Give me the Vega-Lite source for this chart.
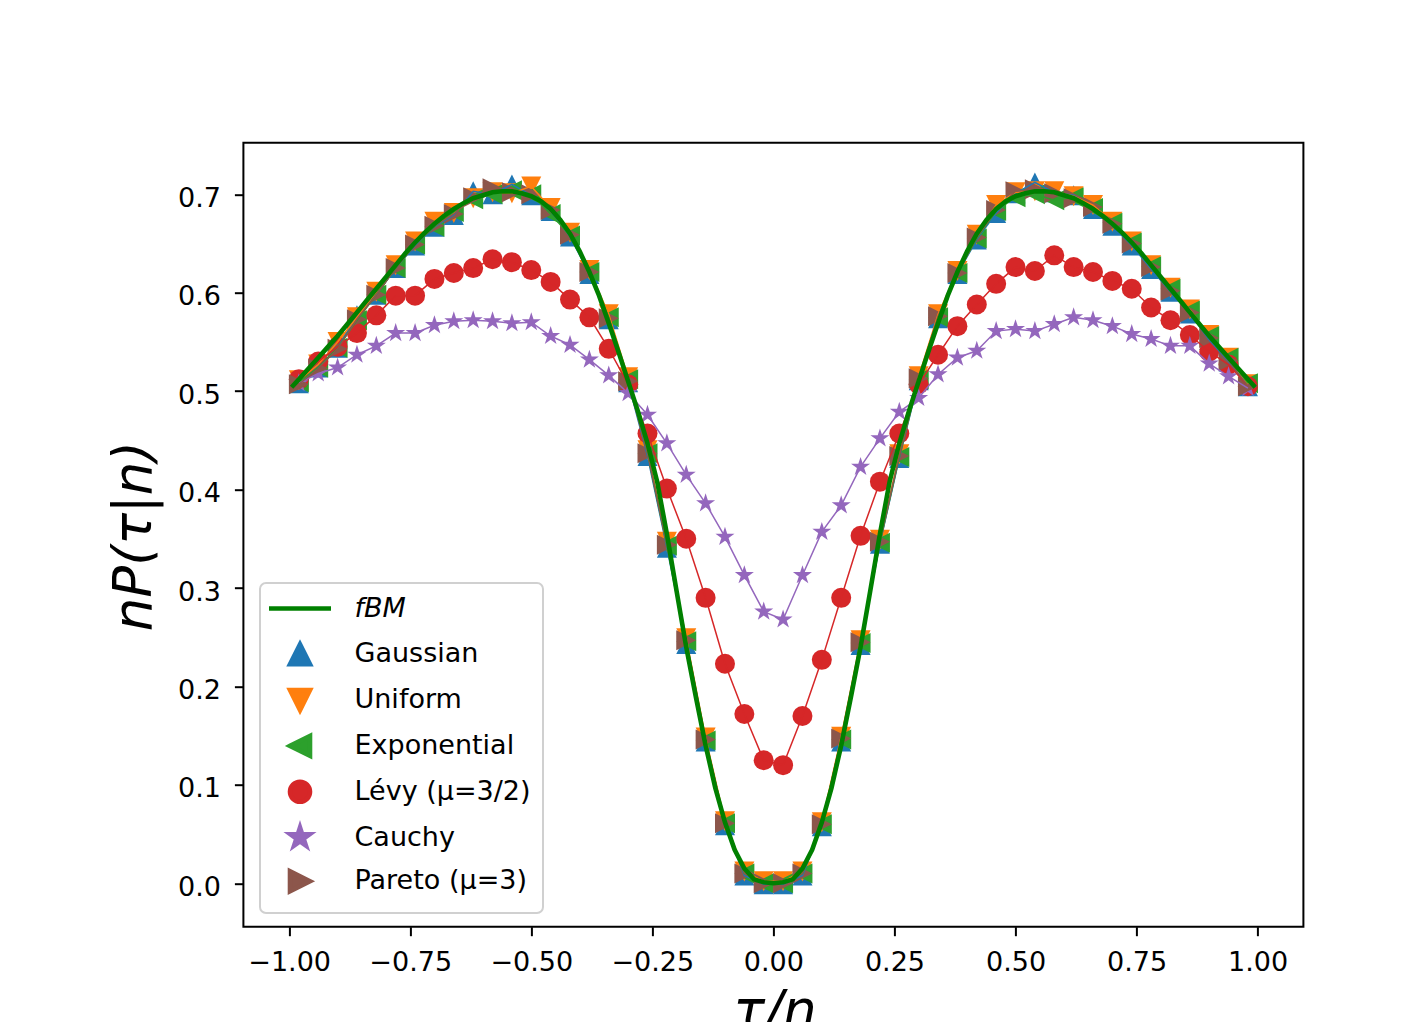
{
  "$schema": "https://vega.github.io/schema/vega-lite/v6.json",
  "width": 1060,
  "height": 784,
  "autosize": {"type": "none"},
  "padding": {"left": 243.4, "top": 142.7, "right": 117.6, "bottom": 95.3},
  "background": "white",
  "datasets": {
    "pts": [
      {"x": -0.98, "Gaussian": 0.508, "Uniform": 0.511, "Exponential": 0.509, "Levy": 0.512, "Cauchy": 0.508, "Pareto": 0.507},
      {"x": -0.94, "Gaussian": 0.524, "Uniform": 0.527, "Exponential": 0.524, "Levy": 0.530, "Cauchy": 0.518, "Pareto": 0.523},
      {"x": -0.90, "Gaussian": 0.544, "Uniform": 0.550, "Exponential": 0.544, "Levy": 0.545, "Cauchy": 0.524, "Pareto": 0.543},
      {"x": -0.86, "Gaussian": 0.577, "Uniform": 0.575, "Exponential": 0.572, "Levy": 0.559, "Cauchy": 0.537, "Pareto": 0.573},
      {"x": -0.82, "Gaussian": 0.598, "Uniform": 0.601, "Exponential": 0.598, "Levy": 0.577, "Cauchy": 0.546, "Pareto": 0.598},
      {"x": -0.78, "Gaussian": 0.625, "Uniform": 0.628, "Exponential": 0.625, "Levy": 0.597, "Cauchy": 0.559, "Pareto": 0.625},
      {"x": -0.74, "Gaussian": 0.648, "Uniform": 0.652, "Exponential": 0.649, "Levy": 0.597, "Cauchy": 0.559, "Pareto": 0.649},
      {"x": -0.70, "Gaussian": 0.667, "Uniform": 0.672, "Exponential": 0.667, "Levy": 0.614, "Cauchy": 0.567, "Pareto": 0.668},
      {"x": -0.66, "Gaussian": 0.679, "Uniform": 0.681, "Exponential": 0.682, "Levy": 0.620, "Cauchy": 0.571, "Pareto": 0.680},
      {"x": -0.62, "Gaussian": 0.703, "Uniform": 0.696, "Exponential": 0.695, "Levy": 0.625, "Cauchy": 0.572, "Pareto": 0.697},
      {"x": -0.58, "Gaussian": 0.700, "Uniform": 0.702, "Exponential": 0.700, "Levy": 0.634, "Cauchy": 0.571, "Pareto": 0.706},
      {"x": -0.54, "Gaussian": 0.710, "Uniform": 0.701, "Exponential": 0.704, "Levy": 0.631, "Cauchy": 0.569, "Pareto": 0.702},
      {"x": -0.50, "Gaussian": 0.699, "Uniform": 0.708, "Exponential": 0.700, "Levy": 0.623, "Cauchy": 0.570, "Pareto": 0.700},
      {"x": -0.46, "Gaussian": 0.683, "Uniform": 0.686, "Exponential": 0.680, "Levy": 0.611, "Cauchy": 0.556, "Pareto": 0.684},
      {"x": -0.42, "Gaussian": 0.657, "Uniform": 0.661, "Exponential": 0.658, "Levy": 0.593, "Cauchy": 0.547, "Pareto": 0.659},
      {"x": -0.38, "Gaussian": 0.619, "Uniform": 0.623, "Exponential": 0.621, "Levy": 0.575, "Cauchy": 0.532, "Pareto": 0.621},
      {"x": -0.34, "Gaussian": 0.573, "Uniform": 0.578, "Exponential": 0.575, "Levy": 0.543, "Cauchy": 0.516, "Pareto": 0.574},
      {"x": -0.30, "Gaussian": 0.509, "Uniform": 0.514, "Exponential": 0.512, "Levy": 0.507, "Cauchy": 0.498, "Pareto": 0.510},
      {"x": -0.26, "Gaussian": 0.434, "Uniform": 0.440, "Exponential": 0.437, "Levy": 0.457, "Cauchy": 0.476, "Pareto": 0.437},
      {"x": -0.22, "Gaussian": 0.341, "Uniform": 0.347, "Exponential": 0.343, "Levy": 0.401, "Cauchy": 0.447, "Pareto": 0.344},
      {"x": -0.18, "Gaussian": 0.243, "Uniform": 0.249, "Exponential": 0.246, "Levy": 0.350, "Cauchy": 0.415, "Pareto": 0.247},
      {"x": -0.14, "Gaussian": 0.144, "Uniform": 0.148, "Exponential": 0.145, "Levy": 0.290, "Cauchy": 0.386, "Pareto": 0.146},
      {"x": -0.10, "Gaussian": 0.059, "Uniform": 0.063, "Exponential": 0.061, "Levy": 0.223, "Cauchy": 0.352, "Pareto": 0.061},
      {"x": -0.06, "Gaussian": 0.008, "Uniform": 0.012, "Exponential": 0.010, "Levy": 0.172, "Cauchy": 0.313, "Pareto": 0.010},
      {"x": -0.02, "Gaussian": -0.001, "Uniform": 0.002, "Exponential": 0.000, "Levy": 0.125, "Cauchy": 0.276, "Pareto": 0.000},
      {"x": 0.02, "Gaussian": -0.001, "Uniform": 0.002, "Exponential": 0.000, "Levy": 0.120, "Cauchy": 0.268, "Pareto": 0.000},
      {"x": 0.06, "Gaussian": 0.008, "Uniform": 0.012, "Exponential": 0.010, "Levy": 0.170, "Cauchy": 0.313, "Pareto": 0.010},
      {"x": 0.10, "Gaussian": 0.058, "Uniform": 0.062, "Exponential": 0.060, "Levy": 0.227, "Cauchy": 0.357, "Pareto": 0.060},
      {"x": 0.14, "Gaussian": 0.144, "Uniform": 0.149, "Exponential": 0.146, "Levy": 0.290, "Cauchy": 0.384, "Pareto": 0.147},
      {"x": 0.18, "Gaussian": 0.242, "Uniform": 0.247, "Exponential": 0.244, "Levy": 0.353, "Cauchy": 0.423, "Pareto": 0.245},
      {"x": 0.22, "Gaussian": 0.345, "Uniform": 0.349, "Exponential": 0.346, "Levy": 0.408, "Cauchy": 0.452, "Pareto": 0.347},
      {"x": 0.26, "Gaussian": 0.432, "Uniform": 0.436, "Exponential": 0.433, "Levy": 0.457, "Cauchy": 0.479, "Pareto": 0.434},
      {"x": 0.30, "Gaussian": 0.511, "Uniform": 0.515, "Exponential": 0.512, "Levy": 0.507, "Cauchy": 0.493, "Pareto": 0.513},
      {"x": 0.34, "Gaussian": 0.574, "Uniform": 0.578, "Exponential": 0.575, "Levy": 0.537, "Cauchy": 0.517, "Pareto": 0.576},
      {"x": 0.38, "Gaussian": 0.619, "Uniform": 0.622, "Exponential": 0.620, "Levy": 0.566, "Cauchy": 0.534, "Pareto": 0.620},
      {"x": 0.42, "Gaussian": 0.654, "Uniform": 0.659, "Exponential": 0.655, "Levy": 0.588, "Cauchy": 0.541, "Pareto": 0.656},
      {"x": 0.46, "Gaussian": 0.681, "Uniform": 0.689, "Exponential": 0.683, "Levy": 0.609, "Cauchy": 0.561, "Pareto": 0.684},
      {"x": 0.50, "Gaussian": 0.701, "Uniform": 0.702, "Exponential": 0.697, "Levy": 0.626, "Cauchy": 0.563, "Pareto": 0.703},
      {"x": 0.54, "Gaussian": 0.712, "Uniform": 0.703, "Exponential": 0.700, "Levy": 0.622, "Cauchy": 0.561, "Pareto": 0.705},
      {"x": 0.58, "Gaussian": 0.702, "Uniform": 0.703, "Exponential": 0.694, "Levy": 0.638, "Cauchy": 0.568, "Pareto": 0.701},
      {"x": 0.62, "Gaussian": 0.699, "Uniform": 0.698, "Exponential": 0.697, "Levy": 0.626, "Cauchy": 0.575, "Pareto": 0.696},
      {"x": 0.66, "Gaussian": 0.685, "Uniform": 0.689, "Exponential": 0.686, "Levy": 0.621, "Cauchy": 0.572, "Pareto": 0.687},
      {"x": 0.70, "Gaussian": 0.668, "Uniform": 0.672, "Exponential": 0.671, "Levy": 0.612, "Cauchy": 0.566, "Pareto": 0.670},
      {"x": 0.74, "Gaussian": 0.648, "Uniform": 0.652, "Exponential": 0.651, "Levy": 0.604, "Cauchy": 0.558, "Pareto": 0.650},
      {"x": 0.78, "Gaussian": 0.624, "Uniform": 0.628, "Exponential": 0.627, "Levy": 0.585, "Cauchy": 0.553, "Pareto": 0.626},
      {"x": 0.82, "Gaussian": 0.601, "Uniform": 0.605, "Exponential": 0.604, "Levy": 0.572, "Cauchy": 0.546, "Pareto": 0.602},
      {"x": 0.86, "Gaussian": 0.579, "Uniform": 0.583, "Exponential": 0.582, "Levy": 0.557, "Cauchy": 0.546, "Pareto": 0.580},
      {"x": 0.90, "Gaussian": 0.552, "Uniform": 0.557, "Exponential": 0.556, "Levy": 0.540, "Cauchy": 0.528, "Pareto": 0.554},
      {"x": 0.94, "Gaussian": 0.530, "Uniform": 0.534, "Exponential": 0.534, "Levy": 0.527, "Cauchy": 0.515, "Pareto": 0.531},
      {"x": 0.98, "Gaussian": 0.505, "Uniform": 0.507, "Exponential": 0.508, "Levy": 0.505, "Cauchy": 0.503, "Pareto": 0.505}
    ],
    "fbm": [
      {"x": -0.995, "y": 0.504}, {"x": -0.98, "y": 0.512}, {"x": -0.96, "y": 0.523}, {"x": -0.94, "y": 0.534},
      {"x": -0.92, "y": 0.545}, {"x": -0.90, "y": 0.556}, {"x": -0.88, "y": 0.568}, {"x": -0.86, "y": 0.580},
      {"x": -0.84, "y": 0.592}, {"x": -0.82, "y": 0.604}, {"x": -0.80, "y": 0.616}, {"x": -0.78, "y": 0.628},
      {"x": -0.76, "y": 0.640}, {"x": -0.74, "y": 0.651}, {"x": -0.72, "y": 0.661}, {"x": -0.70, "y": 0.670},
      {"x": -0.68, "y": 0.678}, {"x": -0.66, "y": 0.685}, {"x": -0.64, "y": 0.691}, {"x": -0.62, "y": 0.696},
      {"x": -0.60, "y": 0.699}, {"x": -0.58, "y": 0.702}, {"x": -0.56, "y": 0.703}, {"x": -0.54, "y": 0.703},
      {"x": -0.52, "y": 0.701}, {"x": -0.50, "y": 0.698}, {"x": -0.48, "y": 0.693}, {"x": -0.46, "y": 0.685},
      {"x": -0.44, "y": 0.674}, {"x": -0.42, "y": 0.660}, {"x": -0.40, "y": 0.642}, {"x": -0.38, "y": 0.621},
      {"x": -0.36, "y": 0.597}, {"x": -0.34, "y": 0.569}, {"x": -0.32, "y": 0.540}, {"x": -0.30, "y": 0.510},
      {"x": -0.28, "y": 0.480}, {"x": -0.26, "y": 0.447}, {"x": -0.24, "y": 0.408}, {"x": -0.22, "y": 0.355},
      {"x": -0.20, "y": 0.297}, {"x": -0.18, "y": 0.240}, {"x": -0.16, "y": 0.189}, {"x": -0.14, "y": 0.140},
      {"x": -0.12, "y": 0.097}, {"x": -0.10, "y": 0.062}, {"x": -0.08, "y": 0.034}, {"x": -0.06, "y": 0.015},
      {"x": -0.04, "y": 0.004}, {"x": -0.02, "y": 0.001}, {"x": 0.00, "y": 0.000},
      {"x": 0.02, "y": 0.001}, {"x": 0.04, "y": 0.004}, {"x": 0.06, "y": 0.015}, {"x": 0.08, "y": 0.034},
      {"x": 0.10, "y": 0.062}, {"x": 0.12, "y": 0.097}, {"x": 0.14, "y": 0.140}, {"x": 0.16, "y": 0.189},
      {"x": 0.18, "y": 0.240}, {"x": 0.20, "y": 0.297}, {"x": 0.22, "y": 0.355}, {"x": 0.24, "y": 0.408},
      {"x": 0.26, "y": 0.447}, {"x": 0.28, "y": 0.480}, {"x": 0.30, "y": 0.510}, {"x": 0.32, "y": 0.540},
      {"x": 0.34, "y": 0.569}, {"x": 0.36, "y": 0.597}, {"x": 0.38, "y": 0.621}, {"x": 0.40, "y": 0.642},
      {"x": 0.42, "y": 0.660}, {"x": 0.44, "y": 0.674}, {"x": 0.46, "y": 0.685}, {"x": 0.48, "y": 0.693},
      {"x": 0.50, "y": 0.698}, {"x": 0.52, "y": 0.701}, {"x": 0.54, "y": 0.703}, {"x": 0.56, "y": 0.703},
      {"x": 0.58, "y": 0.702}, {"x": 0.60, "y": 0.699}, {"x": 0.62, "y": 0.696}, {"x": 0.64, "y": 0.691},
      {"x": 0.66, "y": 0.685}, {"x": 0.68, "y": 0.678}, {"x": 0.70, "y": 0.670}, {"x": 0.72, "y": 0.661},
      {"x": 0.74, "y": 0.651}, {"x": 0.76, "y": 0.640}, {"x": 0.78, "y": 0.628}, {"x": 0.80, "y": 0.616},
      {"x": 0.82, "y": 0.604}, {"x": 0.84, "y": 0.592}, {"x": 0.86, "y": 0.580}, {"x": 0.88, "y": 0.568},
      {"x": 0.90, "y": 0.556}, {"x": 0.92, "y": 0.545}, {"x": 0.94, "y": 0.534}, {"x": 0.96, "y": 0.523},
      {"x": 0.98, "y": 0.512}, {"x": 0.995, "y": 0.504}
    ]
  },
  "layer": [
    {
      "data": {"name": "pts"},
      "transform": [
        {"fold": ["Gaussian", "Uniform", "Exponential", "Levy", "Cauchy", "Pareto"], "as": ["series", "y"]}
      ],
      "mark": {"type": "point", "filled": true, "opacity": 1, "size": 400, "strokeWidth": 0},
      "encoding": {
        "x": {
          "field": "x", "type": "quantitative",
          "scale": {"domain": [-1.0945, 1.0945], "nice": false, "zero": false},
          "axis": {
            "values": [-1, -0.75, -0.5, -0.25, 0, 0.25, 0.5, 0.75, 1],
            "format": ".2f",
            "title": "τ/n",
            "titleFontStyle": "italic",
            "titleFontSize": 53,
            "titleFontWeight": "normal",
            "titleBaseline": "alphabetic",
            "titleY": 101,
            "titleX": 531
          }
        },
        "y": {
          "field": "y", "type": "quantitative",
          "scale": {"domain": [-0.0441, 0.7524], "nice": false, "zero": false},
          "axis": {
            "values": [0, 0.1, 0.2, 0.3, 0.4, 0.5, 0.6, 0.7],
            "format": ".1f",
            "title": "nP(τ|n)",
            "titleFontStyle": "italic",
            "titleFontSize": 53,
            "titleFontWeight": "normal",
            "titleAngle": -90,
            "titleAlign": "center",
            "titleBaseline": "alphabetic",
            "titleX": -93,
            "titleY": 393,
            "labelOffset": 4
          }
        },
        "color": {
          "field": "series", "type": "nominal",
          "scale": {
            "domain": ["fBM", "Gaussian", "Uniform", "Exponential", "Levy", "Cauchy", "Pareto"],
            "range": ["#008000", "#1f77b4", "#ff7f0e", "#2ca02c", "#d62728", "#9467bd", "#8c564b"]
          },
          "legend": {
            "title": null,
            "orient": "none",
            "legendX": 16.6,
            "legendY": 440.3,
            "padding": 12,
            "fillColor": "white",
            "strokeColor": "#d0d0d0",
            "cornerRadius": 6,
            "labelFont": "DejaVu Sans",
            "labelFontSize": 27,
            "labelColor": "black",
            "labelLimit": 400,
            "labelExpr": "datum.value === 'Levy' ? 'Lévy (μ=3/2)' : datum.value === 'Pareto' ? 'Pareto (μ=3)' : datum.value",
            "symbolSize": 400,
            "symbolOffset": 14.5,
            "labelOffset": 41,
            "rowPadding": 6.8,
            "symbolOpacity": 1,
            "encode": {
              "legend": {
                "update": {
                  "strokeWidth": {"value": 2}
                }
              },
              "symbols": {
                "update": {
                  "stroke": {"signal": "datum.value === 'fBM' ? '#008000' : 'transparent'"},
                  "strokeWidth": {"value": 4.6}
                }
              },
              "labels": {
                "update": {
                  "fontStyle": {"signal": "datum.value === 'fBM' ? 'italic' : 'normal'"}
                }
              }
            }
          }
        },
        "shape": {
          "field": "series", "type": "nominal",
          "scale": {
            "domain": ["fBM", "Gaussian", "Uniform", "Exponential", "Levy", "Cauchy", "Pareto"],
            "range": [
              "M-3.1,0L3.1,0M0,-1L0,-1M0,1L0,1",
              "M0,-1L1,1L-1,1Z",
              "M0,1L1,-1L-1,-1Z",
              "M-1,0L1,-1L1,1Z",
              "circle",
              "M0,-1L0.2245,-0.309L0.9511,-0.309L0.3633,0.118L0.5878,0.809L0,0.382L-0.5878,0.809L-0.3633,0.118L-0.9511,-0.309L-0.2245,-0.309Z",
              "M1,0L-1,-1L-1,1Z"
            ]
          }
        }
      }
    },
    {
      "data": {"name": "pts"},
      "transform": [
        {"fold": ["Gaussian", "Uniform", "Exponential", "Levy", "Cauchy", "Pareto"], "as": ["series", "y"]}
      ],
      "mark": {"type": "line", "strokeWidth": 1.5},
      "encoding": {
        "x": {"field": "x", "type": "quantitative"},
        "y": {"field": "y", "type": "quantitative"},
        "color": {"field": "series", "type": "nominal", "legend": null}
      }
    },
    {
      "data": {"name": "fbm"},
      "mark": {"type": "line", "color": "#008000", "strokeWidth": 4.6},
      "encoding": {
        "x": {"field": "x", "type": "quantitative"},
        "y": {"field": "y", "type": "quantitative"}
      }
    }
  ],
  "config": {
    "font": "DejaVu Sans",
    "view": {"stroke": "black", "strokeWidth": 2},
    "axis": {
      "grid": false,
      "domain": false,
      "labelFont": "DejaVu Sans",
      "labelFontSize": 27,
      "labelColor": "black",
      "labelPadding": 14,
      "tickColor": "black",
      "tickWidth": 2,
      "tickSize": 9,
      "titleFont": "DejaVu Sans",
      "titleColor": "black",
      "labelFlush": false,
      "labelOverlap": false
    }
  }
}
